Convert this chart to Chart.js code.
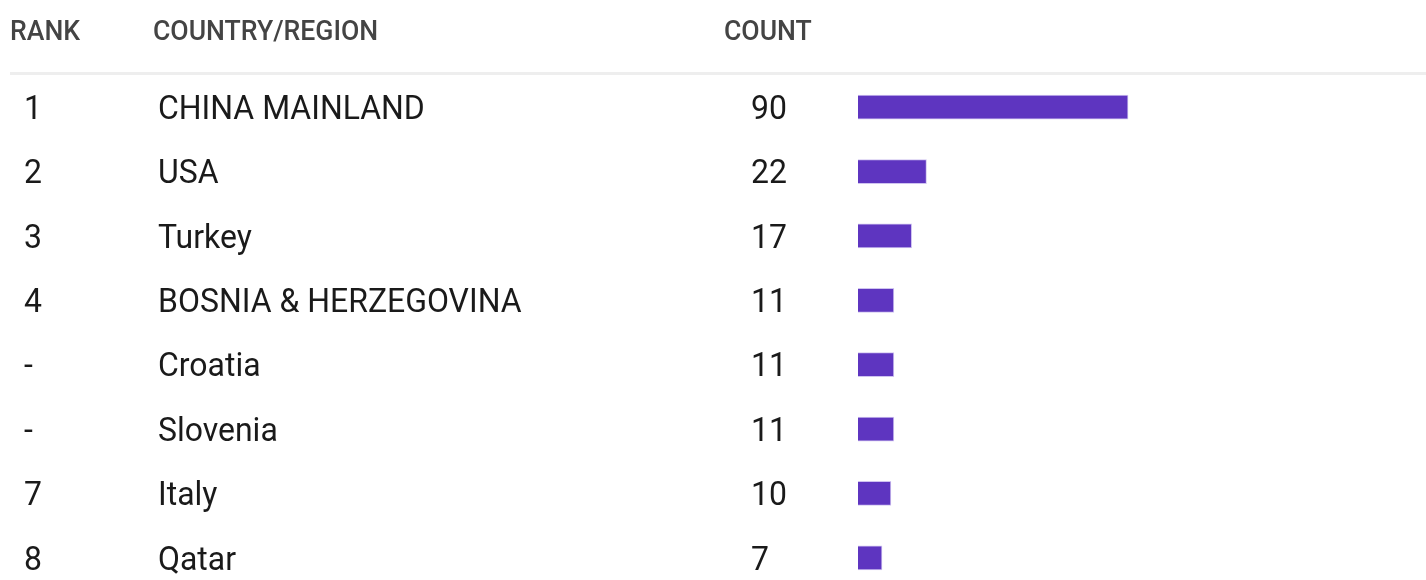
<!DOCTYPE html>
<html>
<head>
<meta charset="utf-8">
<script src="https://cdn.jsdelivr.net/npm/chart.js@4.4.0/dist/chart.umd.min.js"></script>
<style>
  body { margin: 0; background: #fff; overflow: hidden; }
  #wrap { position: relative; width: 1426px; height: 590px; }
</style>
</head>
<body>
<div id="wrap"><canvas id="rankChart"></canvas></div>
<script>
// datos de la tabla
const headers = ['RANK', 'COUNTRY/REGION', 'COUNT'];
const ranks = ['1', '2', '3', '4', '-', '-', '7', '8'];
const countries = ['CHINA MAINLAND', 'USA', 'Turkey', 'BOSNIA & HERZEGOVINA', 'Croatia', 'Slovenia', 'Italy', 'Qatar'];
const counts = [90, 22, 17, 11, 11, 11, 10, 7];

// texto algo estirado en vertical, como en la imagen original
function stretchedText(ctx, text, x, y, sx) {
    ctx.save();
    ctx.translate(x, y);
    ctx.scale(sx, 1);
    ctx.fillText(text, 0, 0);
    ctx.restore();
}

// dibuja encabezado y columnas de texto
const tablePlugin = {
    id: 'tableText',
    afterDatasetsDraw(chart) {
        const ctx = chart.ctx;
        const y = chart.scales.y;
        ctx.save();
        ctx.textBaseline = 'alphabetic';
        ctx.textAlign = 'left';
        // encabezado
        ctx.font = '500 28px Roboto';
        ctx.fillStyle = '#444444';
        stretchedText(ctx, headers[0], 10, 39.5, 0.95);
        stretchedText(ctx, headers[1], 153, 39.5, 0.95);
        stretchedText(ctx, headers[2], 724, 39.5, 0.95);
        // linea divisoria
        ctx.fillStyle = '#eeeeee';
        ctx.fillRect(10, 72, 1416, 3);
        // filas
        ctx.font = '34px Roboto';
        ctx.fillStyle = '#1a1a1a';
        countries.forEach((name, i) => {
            const py = y.getPixelForValue(i) + 11.8;
            stretchedText(ctx, ranks[i], 24, py, 0.94);
            stretchedText(ctx, name, 158, py, 0.94);
            stretchedText(ctx, String(counts[i]), 751, py, 0.94);
        });
        ctx.restore();
    }
};

const ctx = document.getElementById('rankChart').getContext('2d');
new Chart(ctx, {
    type: 'bar',
    data: {
        labels: countries,
        datasets: [{
            label: 'Count',
            data: counts,
            base: -1.1,
            backgroundColor: '#5e35c0',
            borderColor: '#cfc3f0',
            borderWidth: 1,
            barThickness: 24
        }]
    },
    options: {
        indexAxis: 'y',
        responsive: true,
        maintainAspectRatio: false,
        animation: false,
        layout: { padding: { left: 858, right: 0, top: 75, bottom: 0 } },
        plugins: { legend: { display: false }, tooltip: { enabled: false } },
        scales: {
            x: { display: false, min: -1.1, max: 190.5 },
            y: { display: false }
        }
    },
    plugins: [tablePlugin]
});
</script>
</body>
</html>
